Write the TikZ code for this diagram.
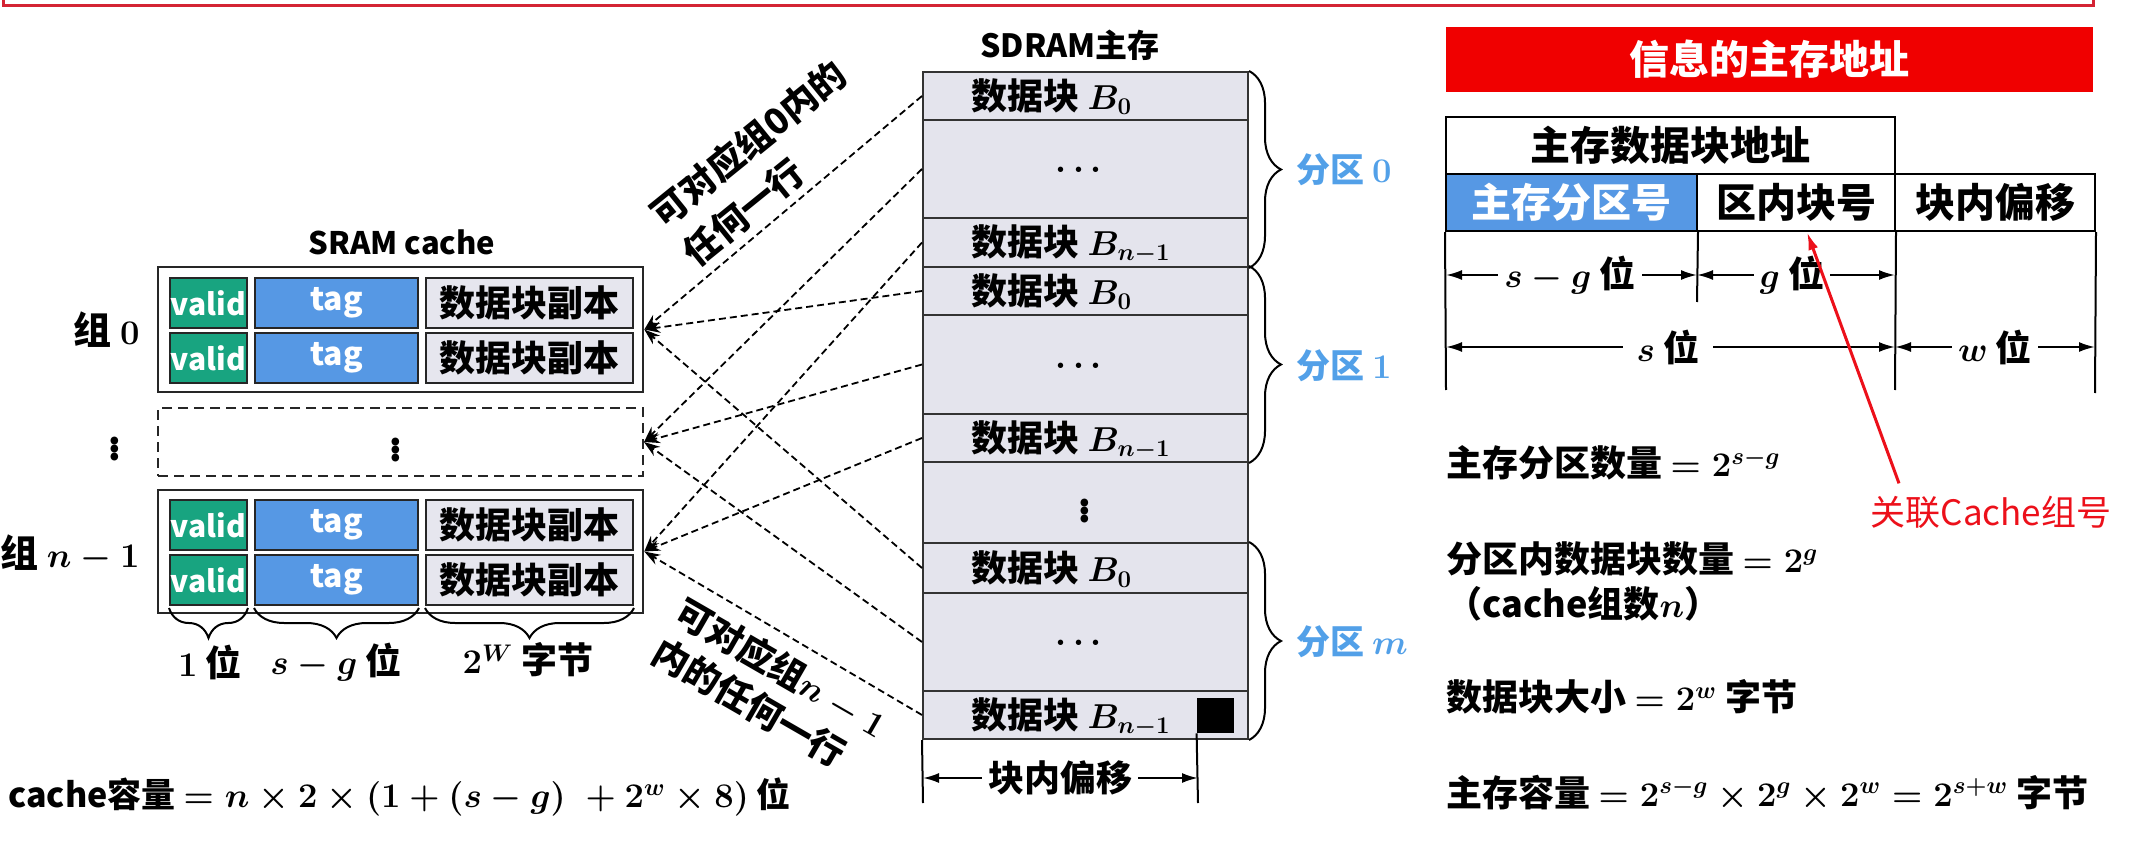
\documentclass[tikz,border=0pt]{standalone}
\usepackage[no-math]{fontspec}
\setmainfont{Noto Sans CJK SC}
\usepackage{amsmath}
\usetikzlibrary{arrows.meta,decorations.pathreplacing,fit}
\definecolor{validgreen}{RGB}{24,164,128}
\definecolor{tagblue}{RGB}{86,152,228}
\definecolor{cellgray}{RGB}{230,230,238}
\definecolor{memgray}{RGB}{228,228,237}
\definecolor{partblue}{RGB}{82,160,232}
\definecolor{bannerred}{RGB}{240,0,0}
\definecolor{annred}{RGB}{236,16,26}
\definecolor{framered}{RGB}{212,36,52}
\newcommand\myfs[2]{\fontsize{#1}{#2}\selectfont}
\begin{document}
\begin{tikzpicture}[x=0.5pt,y=-0.5pt,
  lbl/.style={inner sep=0pt, font=\bfseries\boldmath\myfs{18}{22}},
  cellbase/.style={draw=black!85, line width=1pt, inner sep=0pt, fit={#1}},
  vcell/.style={cellbase={#1}, fill=validgreen},
  tcell/.style={cellbase={#1}, fill=tagblue},
  dcell/.style={cellbase={#1}, fill=cellgray},
  vtxt/.style={inner sep=0pt, text=white, font=\bfseries\myfs{15}{18}},
  ttxt/.style={inner sep=0pt, text=white, font=\bfseries\myfs{16}{18}},
  dtxt/.style={inner sep=0pt, font=\bfseries\myfs{18}{20}},
  tabtxt/.style={inner sep=0pt, font=\bfseries\myfs{20}{22}},
  grpbox/.style={draw=black!85, line width=1.3pt, inner sep=0pt, fit={#1}},
  dashbox/.style={draw=black!85, line width=1pt, dash pattern=on 5pt off 3pt, inner sep=0pt, fit={#1}},
  memrow/.style={draw=black!80, line width=1pt, fill=memgray, inner sep=0pt, fit={#1}},
  tabcell/.style={draw=black, line width=1pt, inner sep=0pt, fit={#1}},
  maparrow/.style={line width=0.9pt, dash pattern=on 3.5pt off 2pt, -{Stealth[length=8pt,width=5.5pt]}},
  dimarrow/.style={line width=1pt, {Latex[length=8pt,width=5pt]}-{Latex[length=8pt,width=5pt]}},
  membrace/.style={decorate, decoration={brace, amplitude=16pt}, line width=1pt},
  cbrace/.style={decorate, decoration={brace, amplitude=15pt}, line width=1pt},
  partlbl/.style={inner sep=0pt, anchor=west, text=partblue, font=\bfseries\boldmath\myfs{17}{20}},
]
\useasboundingbox (0,0) rectangle (2142,866);
% top red frame
\draw[framered, line width=1.5pt] (3,-20) -- (3,6) -- (2093,6) -- (2093,-20);

% ---------------- SRAM cache ----------------
\node[lbl, font=\bfseries\myfs{15.5}{18}] (sram) at (402,242) {SRAM cache};
\node[grpbox={(158,267) (643,392)}] (g0) {};
\node[vcell={(170,278) (247,328)}, label={[vtxt]center:valid}] (g0v1) {};
\node[tcell={(255,278) (418,328)}, label={[ttxt]center:tag}] (g0t1) {};
\node[dcell={(426,278) (633,328)}, label={[dtxt]center:数据块副本}] (g0d1) {};
\node[vcell={(170,333) (247,383)}, label={[vtxt]center:valid}] (g0v2) {};
\node[tcell={(255,333) (418,383)}, label={[ttxt]center:tag}] (g0t2) {};
\node[dcell={(426,333) (633,383)}, label={[dtxt]center:数据块副本}] (g0d2) {};

\node[dashbox={(158,408) (643,476)}] (gd) {};
\node[lbl] (gddots) at (396,444) {$\vdots$};

\node[grpbox={(158,490) (643,613)}] (gn) {};
\node[vcell={(170,500) (247,550)}, label={[vtxt]center:valid}] (gnv1) {};
\node[tcell={(255,500) (418,550)}, label={[ttxt]center:tag}] (gnt1) {};
\node[dcell={(426,500) (633,550)}, label={[dtxt]center:数据块副本}] (gnd1) {};
\node[vcell={(170,555) (247,605)}, label={[vtxt]center:valid}] (gnv2) {};
\node[tcell={(255,555) (418,605)}, label={[ttxt]center:tag}] (gnt2) {};
\node[dcell={(426,555) (633,605)}, label={[dtxt]center:数据块副本}] (gnd2) {};

\node[lbl, font=\bfseries\boldmath\myfs{19}{22}, anchor=east] (lg0) at (140,330) {组 $0$};
\node[lbl] (ldots) at (115,443) {$\vdots$};
\node[lbl, font=\bfseries\boldmath\myfs{19}{22}, anchor=east] (lgn) at (140,553) {组 $n-1$};

\draw[cbrace] ([yshift=-1pt]gnv2.south east) -- ([yshift=-1pt]gnv2.south west);
\draw[cbrace] ([yshift=-1pt]gnt2.south east) -- ([yshift=-1pt]gnt2.south west);
\draw[cbrace] ([yshift=-1pt]gnd2.south east) -- ([yshift=-1pt]gnd2.south west);
\node[lbl] (w1) at (210,662) {$1$ 位};
\node[lbl] (w2) at (336,662) {$s-g$ 位};
\node[lbl] (w3) at (528,660) {$2^{W}$ 字节};

\node[lbl, anchor=west, font=\bfseries\boldmath\myfs{17}{20}] (ccap) at (8,797) {cache容量 $= n\times 2\times(1+(s-g)\;+2^{w}\times 8)$ 位};

% ---------------- SDRAM ----------------
\node[lbl, font=\bfseries\myfs{16}{18}] (sdram) at (1070,45) {SDRAM主存};
\node[memrow={(923,72) (1248,120)}] (m1) {};
\node[memrow={(923,120) (1248,218)}] (m2) {};
\node[memrow={(923,218) (1248,267)}] (m3) {};
\node[memrow={(923,267) (1248,315)}] (m4) {};
\node[memrow={(923,315) (1248,414)}] (m5) {};
\node[memrow={(923,414) (1248,462)}] (m6) {};
\node[memrow={(923,462) (1248,543)}] (m7) {};
\node[memrow={(923,543) (1248,593)}] (m8) {};
\node[memrow={(923,593) (1248,691)}] (m9) {};
\node[memrow={(923,691) (1248,739)}] (m10) {};

\node[lbl, anchor=west] (m1t) at (971,97) {数据块 $B_{0}$};
\node[lbl] (m2t) at (1082,170) {$\cdots$};
\node[lbl, anchor=west] (m3t) at (971,244) {数据块 $B_{n-1}$};
\node[lbl, anchor=west] (m4t) at (971,292) {数据块 $B_{0}$};
\node[lbl] (m5t) at (1082,366) {$\cdots$};
\node[lbl, anchor=west] (m6t) at (971,440) {数据块 $B_{n-1}$};
\node[lbl] (m7t) at (1085,505) {$\vdots$};
\node[lbl, anchor=west] (m8t) at (971,569) {数据块 $B_{0}$};
\node[lbl] (m9t) at (1082,643) {$\cdots$};
\node[lbl, anchor=west] (m10t) at (971,717) {数据块 $B_{n-1}$};
\node[fill=black, inner sep=0pt, fit={(1197,698) (1234,733)}] (sq) {};

\draw[membrace] (m1.north east) -- (m3.south east);
\draw[membrace] (m4.north east) -- (m6.south east);
\draw[membrace] (m8.north east) -- (m10.south east);
\node[partlbl] (p0) at (1296,170) {分区 $0$};
\node[partlbl] (p1) at (1296,366) {分区 $1$};
\node[partlbl] (pm) at (1296,642) {分区 $m$};

\coordinate (offL) at (923,803);
\coordinate (offR) at (1198,803);
\draw[line width=1pt] (m10.south west) -- (offL);
\draw[line width=1pt] (sq.south west) -- (offR);
\draw[dimarrow] (923,778) -- (1198,778);
\node[lbl, fill=white, inner xsep=3pt, inner ysep=2pt] (offtxt) at (1060,778) {块内偏移};

% ---------------- mapping arrows ----------------
\foreach \s/\t in {m1/g0, m2/gd, m3/gn, m4/g0, m5/gd, m6/gn, m8/g0, m9/gd, m10/gn}
  \draw[maparrow] (\s.west) -- (\t.east);

\node[lbl, rotate=39, align=left, font=\bfseries\boldmath\myfs{18}{25}] (noteA) at (764,163) {可对应组0内的\\任何一行};
\node[lbl, rotate=-30, align=left, font=\bfseries\boldmath\myfs{18}{23}] (noteB) at (770,688) {可对应组$n-1$\\内的任何一行};

% ---------------- address table ----------------
\node[fill=bannerred, inner sep=0pt, fit={(1446,27) (2093,92)}] (banner) {};
\node[lbl, text=white, font=\bfseries\myfs{20}{22}] (bannertxt) at (banner.center) {信息的主存地址};

\node[tabcell={(1446,117) (1895,174)}, label={[tabtxt]center:主存数据块地址}] (addr) {};
\node[tabcell={(1446,174) (1697,231)}, fill=tagblue, label={[tabtxt, text=white]center:主存分区号}] (part) {};
\node[tabcell={(1697,174) (1895,231)}, label={[tabtxt]center:区内块号}] (blk) {};
\node[tabcell={(1895,174) (2095,231)}, label={[tabtxt]center:块内偏移}] (off) {};
\coordinate (v1) at (1446,390);
\coordinate (v2) at (1697,302);
\coordinate (v3) at (1895,390);
\coordinate (v4) at (2095,393);
\draw[line width=1pt] (part.south west) -- (v1);
\draw[line width=1pt] (part.south east) -- (v2);
\draw[line width=1pt] (blk.south east) -- (v3);
\draw[line width=1pt] (off.south east) -- (v4);

\draw[dimarrow] (1446,275) -- (1697,275);
\node[lbl, fill=white, inner xsep=3pt, inner ysep=1pt] (dsg) at (1570,275) {$s-g$ 位};
\draw[dimarrow] (1697,275) -- (1895,275);
\node[lbl, fill=white, inner xsep=3pt, inner ysep=1pt] (dg) at (1792,275) {$g$ 位};
\draw[dimarrow] (1446,347) -- (1895,347);
\node[lbl, fill=white, inner xsep=7pt, inner ysep=1pt] (ds) at (1668,347) {$s$ 位};
\draw[dimarrow] (1895,347) -- (2095,347);
\node[lbl, fill=white, inner xsep=3pt, inner ysep=1pt] (dw) at (1995,347) {$w$ 位};

\node[inner sep=0pt, text=annred, font=\myfs{17.5}{20}] (assoc) at (1991,512) {关联Cache组号};
\draw[annred, line width=1.5pt, -{Latex[length=9pt,width=5pt]}] ([xshift=-46pt,yshift=6pt]assoc.north) -- ([xshift=5.5pt]blk.south);

\node[lbl, anchor=west] (f1) at (1446,463) {主存分区数量 $=2^{s-g}$};
\node[lbl, anchor=west] (f2) at (1446,559) {分区内数据块数量 $=2^{g}$};
\node[lbl, anchor=west] (f3) at (1446,604) {（cache组数$n$）};
\node[lbl, anchor=west] (f4) at (1446,697) {数据块大小 $=2^{w}$ 字节};
\node[lbl, anchor=west] (f5) at (1446,793) {主存容量 $=2^{s-g}\times 2^{g}\times 2^{w}=2^{s+w}$ 字节};
\end{tikzpicture}
\end{document}
